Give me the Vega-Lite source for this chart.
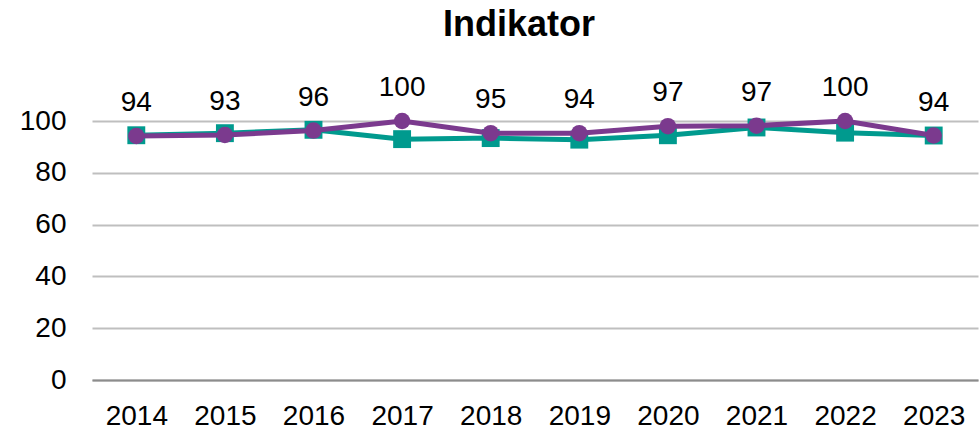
{
  "$schema": "https://vega.github.io/schema/vega-lite/v6.json",
  "width": 886,
  "height": 259,
  "autosize": "none",
  "padding": {"left": 92, "top": 121, "right": 2, "bottom": 52},
  "title": {"text": "Indikator", "font": "Liberation Sans", "fontSize": 36, "fontWeight": "bold", "color": "#000000", "anchor": "middle", "dx": -16, "offset": 30},
  "config": {
    "view": {"stroke": null},
    "font": "Liberation Sans"
  },
  "data": {
    "values": [
      {"year": "2014", "teal": 94.5, "purple": 94.2, "label": "94"},
      {"year": "2015", "teal": 95.3, "purple": 94.6, "label": "93"},
      {"year": "2016", "teal": 96.6, "purple": 96.3, "label": "96"},
      {"year": "2017", "teal": 93.0, "purple": 100, "label": "100"},
      {"year": "2018", "teal": 93.4, "purple": 95.3, "label": "95"},
      {"year": "2019", "teal": 92.8, "purple": 95.3, "label": "94"},
      {"year": "2020", "teal": 94.5, "purple": 98.0, "label": "97"},
      {"year": "2021", "teal": 97.5, "purple": 98.2, "label": "97"},
      {"year": "2022", "teal": 95.5, "purple": 100, "label": "100"},
      {"year": "2023", "teal": 94.4, "purple": 94.4, "label": "94"}
    ]
  },
  "encoding": {
    "x": {
      "field": "year", "type": "ordinal",
      "axis": {"title": null, "labelAngle": 0, "labelFontSize": 28, "labelColor": "#000000", "labelPadding": 22, "ticks": false, "domainColor": "#8c8c8c", "domainWidth": 2, "grid": false, "labelFont": "Liberation Sans"}
    }
  },
  "layer": [
    {
      "mark": {"type": "line", "color": "#009A8E", "strokeWidth": 5},
      "encoding": {
        "y": {"field": "teal", "type": "quantitative", "scale": {"domain": [0, 100]},
          "axis": {"title": null, "values": [0, 20, 40, 60, 80, 100], "labelFontSize": 28, "labelColor": "#000000", "labelPadding": 26, "ticks": false, "domain": false, "gridColor": "#bfbfbf", "gridWidth": 2, "labelFont": "Liberation Sans"}}
      }
    },
    {
      "mark": {"type": "point", "shape": "square", "filled": true, "opacity": 1, "color": "#009A8E", "size": 320},
      "encoding": {"y": {"field": "teal", "type": "quantitative"}}
    },
    {
      "mark": {"type": "line", "color": "#7B3A8E", "strokeWidth": 5},
      "encoding": {"y": {"field": "purple", "type": "quantitative"}}
    },
    {
      "mark": {"type": "point", "shape": "circle", "filled": true, "opacity": 1, "color": "#7B3A8E", "size": 270},
      "encoding": {"y": {"field": "purple", "type": "quantitative"}}
    },
    {
      "mark": {"type": "text", "fontSize": 28, "color": "#000000", "baseline": "alphabetic", "dy": -25, "font": "Liberation Sans"},
      "encoding": {"y": {"field": "purple", "type": "quantitative"}, "text": {"field": "label"}}
    }
  ]
}
